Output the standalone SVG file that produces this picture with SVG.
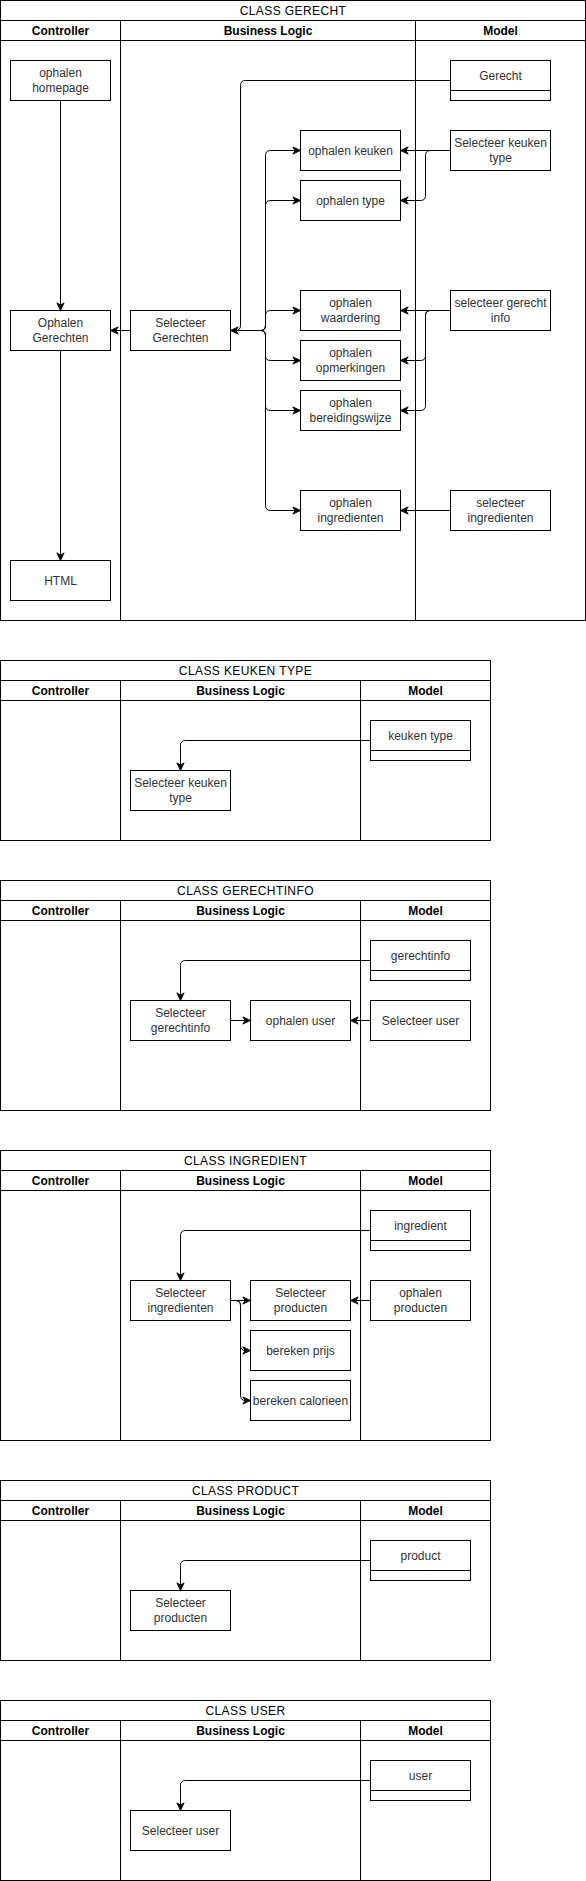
<svg xmlns="http://www.w3.org/2000/svg" width="586" height="1881" viewBox="0 0 586 1881">
<style>
.pool{fill:none;stroke:#000;stroke-width:1}
.ln{stroke:#000;stroke-width:1}
.node{fill:#fff;stroke:#000;stroke-width:1}
.edge{fill:none;stroke:#000;stroke-width:1;marker-end:url(#arr)}
text{font-family:"Liberation Sans",Arial,Helvetica,sans-serif;font-size:12px;text-anchor:middle}
.lbl{fill:#333}
.hdr{font-weight:bold;fill:#000}
.ttl{fill:#000;letter-spacing:0.4px}
</style>
<defs>
<marker id="arr" viewBox="0 0 10 10" refX="9.5" refY="5" markerWidth="9" markerHeight="9" markerUnits="userSpaceOnUse" orient="auto">
<path d="M1,1 L9.5,5 L1,9 L3.5,5 z" fill="#000" stroke="#000" stroke-width="1"/>
</marker>
</defs>
<rect x="0" y="0" width="586" height="1881" fill="#fff"/>
<g transform="translate(0.5,0.5)">

<!-- POOL 1 -->
<g id="pool-gerecht">
<rect class="pool" x="0" y="0" width="585" height="620"/>
<line class="ln" x1="0" y1="20" x2="585" y2="20"/>
<line class="ln" x1="0" y1="40" x2="585" y2="40"/>
<line class="ln" x1="120" y1="20" x2="120" y2="620"/>
<line class="ln" x1="415" y1="20" x2="415" y2="620"/>
<text class="ttl" x="292.5" y="14">CLASS GERECHT</text>
<text class="hdr" x="60" y="34">Controller</text>
<text class="hdr" x="267.5" y="34">Business Logic</text>
<text class="hdr" x="500" y="34">Model</text>
</g>

<!-- POOL 2 -->
<g id="pool-keukentype">
<rect class="pool" x="0" y="660" width="490" height="180"/>
<line class="ln" x1="0" y1="680" x2="490" y2="680"/>
<line class="ln" x1="0" y1="700" x2="490" y2="700"/>
<line class="ln" x1="120" y1="680" x2="120" y2="840"/>
<line class="ln" x1="360" y1="680" x2="360" y2="840"/>
<text class="ttl" x="245" y="674">CLASS KEUKEN TYPE</text>
<text class="hdr" x="60" y="694">Controller</text>
<text class="hdr" x="240" y="694">Business Logic</text>
<text class="hdr" x="425" y="694">Model</text>
</g>

<!-- POOL 3 -->
<g id="pool-gerechtinfo">
<rect class="pool" x="0" y="880" width="490" height="230"/>
<line class="ln" x1="0" y1="900" x2="490" y2="900"/>
<line class="ln" x1="0" y1="920" x2="490" y2="920"/>
<line class="ln" x1="120" y1="900" x2="120" y2="1110"/>
<line class="ln" x1="360" y1="900" x2="360" y2="1110"/>
<text class="ttl" x="245" y="894">CLASS GERECHTINFO</text>
<text class="hdr" x="60" y="914">Controller</text>
<text class="hdr" x="240" y="914">Business Logic</text>
<text class="hdr" x="425" y="914">Model</text>
</g>

<!-- POOL 4 -->
<g id="pool-ingredient">
<rect class="pool" x="0" y="1150" width="490" height="290"/>
<line class="ln" x1="0" y1="1170" x2="490" y2="1170"/>
<line class="ln" x1="0" y1="1190" x2="490" y2="1190"/>
<line class="ln" x1="120" y1="1170" x2="120" y2="1440"/>
<line class="ln" x1="360" y1="1170" x2="360" y2="1440"/>
<text class="ttl" x="245" y="1164">CLASS INGREDIENT</text>
<text class="hdr" x="60" y="1184">Controller</text>
<text class="hdr" x="240" y="1184">Business Logic</text>
<text class="hdr" x="425" y="1184">Model</text>
</g>

<!-- POOL 5 -->
<g id="pool-product">
<rect class="pool" x="0" y="1480" width="490" height="180"/>
<line class="ln" x1="0" y1="1500" x2="490" y2="1500"/>
<line class="ln" x1="0" y1="1520" x2="490" y2="1520"/>
<line class="ln" x1="120" y1="1500" x2="120" y2="1660"/>
<line class="ln" x1="360" y1="1500" x2="360" y2="1660"/>
<text class="ttl" x="245" y="1494">CLASS PRODUCT</text>
<text class="hdr" x="60" y="1514">Controller</text>
<text class="hdr" x="240" y="1514">Business Logic</text>
<text class="hdr" x="425" y="1514">Model</text>
</g>

<!-- POOL 6 -->
<g id="pool-user">
<rect class="pool" x="0" y="1700" width="490" height="180"/>
<line class="ln" x1="0" y1="1720" x2="490" y2="1720"/>
<line class="ln" x1="0" y1="1740" x2="490" y2="1740"/>
<line class="ln" x1="120" y1="1720" x2="120" y2="1880"/>
<line class="ln" x1="360" y1="1720" x2="360" y2="1880"/>
<text class="ttl" x="245" y="1714">CLASS USER</text>
<text class="hdr" x="60" y="1734">Controller</text>
<text class="hdr" x="240" y="1734">Business Logic</text>
<text class="hdr" x="425" y="1734">Model</text>
</g>

<!-- CONNECTORS -->
<g id="connectors">
<path class="edge" d="M60,100 L60,310"/>
<path class="edge" d="M60,350 L60,560"/>
<path class="edge" d="M130,330 L110,330"/>
<path class="edge" d="M450,80 L245,80 Q240,80 240,85 L240,325 Q240,330 235,330 L230,330"/>
<path class="edge" d="M230,330 L260,330 Q265,330 265,325 L265,155 Q265,150 270,150 L300,150"/>
<path class="edge" d="M230,330 L260,330 Q265,330 265,325 L265,205 Q265,200 270,200 L300,200"/>
<path class="edge" d="M230,330 L260,330 Q265,330 265,325 L265,315 Q265,310 270,310 L300,310"/>
<path class="edge" d="M230,330 L260,330 Q265,330 265,335 L265,355 Q265,360 270,360 L300,360"/>
<path class="edge" d="M230,330 L260,330 Q265,330 265,335 L265,405 Q265,410 270,410 L300,410"/>
<path class="edge" d="M230,330 L260,330 Q265,330 265,335 L265,505 Q265,510 270,510 L300,510"/>
<path class="edge" d="M450,150 L400,150"/>
<path class="edge" d="M450,150 L430,150 Q425,150 425,155 L425,195 Q425,200 420,200 L400,200"/>
<path class="edge" d="M450,310 L400,310"/>
<path class="edge" d="M450,310 L430,310 Q425,310 425,315 L425,355 Q425,360 420,360 L400,360"/>
<path class="edge" d="M450,310 L430,310 Q425,310 425,315 L425,405 Q425,410 420,410 L400,410"/>
<path class="edge" d="M450,510 L400,510"/>

<path class="edge" d="M370,740 L185,740 Q180,740 180,745 L180,770"/>

<path class="edge" d="M370,960 L185,960 Q180,960 180,965 L180,1000"/>
<path class="edge" d="M230,1020 L250,1020"/>
<path class="edge" d="M370,1020 L350,1020"/>

<path class="edge" d="M370,1230 L185,1230 Q180,1230 180,1235 L180,1280"/>
<path class="edge" d="M230,1300 L250,1300"/>
<path class="edge" d="M230,1300 L235,1300 Q240,1300 240,1305 L240,1345 Q240,1350 245,1350 L250,1350"/>
<path class="edge" d="M230,1300 L235,1300 Q240,1300 240,1305 L240,1395 Q240,1400 245,1400 L250,1400"/>
<path class="edge" d="M370,1300 L350,1300"/>

<path class="edge" d="M370,1560 L185,1560 Q180,1560 180,1565 L180,1590"/>

<path class="edge" d="M370,1780 L185,1780 Q180,1780 180,1785 L180,1810"/>
</g>

<!-- NODES POOL 1 -->
<g id="n-homepage"><rect class="node" x="10" y="60" width="100" height="40"/><text class="lbl" x="60" y="76.5">ophalen</text><text class="lbl" x="60" y="91.5">homepage</text></g>
<g id="n-ophalen-gerechten"><rect class="node" x="10" y="310" width="100" height="40"/><text class="lbl" x="60" y="326.5">Ophalen</text><text class="lbl" x="60" y="341.5">Gerechten</text></g>
<g id="n-html"><rect class="node" x="10" y="560" width="100" height="40"/><text class="lbl" x="60" y="584">HTML</text></g>
<g id="n-selecteer-gerechten"><rect class="node" x="130" y="310" width="100" height="40"/><text class="lbl" x="180" y="326.5">Selecteer</text><text class="lbl" x="180" y="341.5">Gerechten</text></g>
<g id="n-ophalen-keuken"><rect class="node" x="300" y="130" width="100" height="40"/><text class="lbl" x="350" y="154">ophalen keuken</text></g>
<g id="n-ophalen-type"><rect class="node" x="300" y="180" width="100" height="40"/><text class="lbl" x="350" y="204">ophalen type</text></g>
<g id="n-ophalen-waardering"><rect class="node" x="300" y="290" width="100" height="40"/><text class="lbl" x="350" y="306.5">ophalen</text><text class="lbl" x="350" y="321.5">waardering</text></g>
<g id="n-ophalen-opmerkingen"><rect class="node" x="300" y="340" width="100" height="40"/><text class="lbl" x="350" y="356.5">ophalen</text><text class="lbl" x="350" y="371.5">opmerkingen</text></g>
<g id="n-ophalen-bereidingswijze"><rect class="node" x="300" y="390" width="100" height="40"/><text class="lbl" x="350" y="406.5">ophalen</text><text class="lbl" x="350" y="421.5">bereidingswijze</text></g>
<g id="n-ophalen-ingredienten"><rect class="node" x="300" y="490" width="100" height="40"/><text class="lbl" x="350" y="506.5">ophalen</text><text class="lbl" x="350" y="521.5">ingredienten</text></g>
<g id="n-gerecht"><rect class="node" x="450" y="60" width="100" height="40"/><line class="ln" x1="450" y1="90" x2="550" y2="90"/><text class="lbl" x="500" y="79">Gerecht</text></g>
<g id="n-selecteer-keuken-type"><rect class="node" x="450" y="130" width="100" height="40"/><text class="lbl" x="500" y="146.5">Selecteer keuken</text><text class="lbl" x="500" y="161.5">type</text></g>
<g id="n-selecteer-gerecht-info"><rect class="node" x="450" y="290" width="100" height="40"/><text class="lbl" x="500" y="306.5">selecteer gerecht</text><text class="lbl" x="500" y="321.5">info</text></g>
<g id="n-selecteer-ingredienten"><rect class="node" x="450" y="490" width="100" height="40"/><text class="lbl" x="500" y="506.5">selecteer</text><text class="lbl" x="500" y="521.5">ingredienten</text></g>

<!-- NODES POOL 2 -->
<g id="n-keuken-type"><rect class="node" x="370" y="720" width="100" height="40"/><line class="ln" x1="370" y1="750" x2="470" y2="750"/><text class="lbl" x="420" y="739">keuken type</text></g>
<g id="n-selecteer-keuken-type-2"><rect class="node" x="130" y="770" width="100" height="40"/><text class="lbl" x="180" y="786.5">Selecteer keuken</text><text class="lbl" x="180" y="801.5">type</text></g>

<!-- NODES POOL 3 -->
<g id="n-gerechtinfo"><rect class="node" x="370" y="940" width="100" height="40"/><line class="ln" x1="370" y1="970" x2="470" y2="970"/><text class="lbl" x="420" y="959">gerechtinfo</text></g>
<g id="n-selecteer-gerechtinfo"><rect class="node" x="130" y="1000" width="100" height="40"/><text class="lbl" x="180" y="1016.5">Selecteer</text><text class="lbl" x="180" y="1031.5">gerechtinfo</text></g>
<g id="n-ophalen-user"><rect class="node" x="250" y="1000" width="100" height="40"/><text class="lbl" x="300" y="1024">ophalen user</text></g>
<g id="n-selecteer-user"><rect class="node" x="370" y="1000" width="100" height="40"/><text class="lbl" x="420" y="1024">Selecteer user</text></g>

<!-- NODES POOL 4 -->
<g id="n-ingredient"><rect class="node" x="370" y="1210" width="100" height="40"/><line class="ln" x1="370" y1="1240" x2="470" y2="1240"/><text class="lbl" x="420" y="1229">ingredient</text></g>
<g id="n-selecteer-ingredienten-2"><rect class="node" x="130" y="1280" width="100" height="40"/><text class="lbl" x="180" y="1296.5">Selecteer</text><text class="lbl" x="180" y="1311.5">ingredienten</text></g>
<g id="n-selecteer-producten"><rect class="node" x="250" y="1280" width="100" height="40"/><text class="lbl" x="300" y="1296.5">Selecteer</text><text class="lbl" x="300" y="1311.5">producten</text></g>
<g id="n-ophalen-producten"><rect class="node" x="370" y="1280" width="100" height="40"/><text class="lbl" x="420" y="1296.5">ophalen</text><text class="lbl" x="420" y="1311.5">producten</text></g>
<g id="n-bereken-prijs"><rect class="node" x="250" y="1330" width="100" height="40"/><text class="lbl" x="300" y="1354">bereken prijs</text></g>
<g id="n-bereken-calorieen"><rect class="node" x="250" y="1380" width="100" height="40"/><text class="lbl" x="300" y="1404">bereken calorieen</text></g>

<!-- NODES POOL 5 -->
<g id="n-product"><rect class="node" x="370" y="1540" width="100" height="40"/><line class="ln" x1="370" y1="1570" x2="470" y2="1570"/><text class="lbl" x="420" y="1559">product</text></g>
<g id="n-selecteer-producten-2"><rect class="node" x="130" y="1590" width="100" height="40"/><text class="lbl" x="180" y="1606.5">Selecteer</text><text class="lbl" x="180" y="1621.5">producten</text></g>

<!-- NODES POOL 6 -->
<g id="n-user"><rect class="node" x="370" y="1760" width="100" height="40"/><line class="ln" x1="370" y1="1790" x2="470" y2="1790"/><text class="lbl" x="420" y="1779">user</text></g>
<g id="n-selecteer-user-2"><rect class="node" x="130" y="1810" width="100" height="40"/><text class="lbl" x="180" y="1834">Selecteer user</text></g>

</g>
</svg>
